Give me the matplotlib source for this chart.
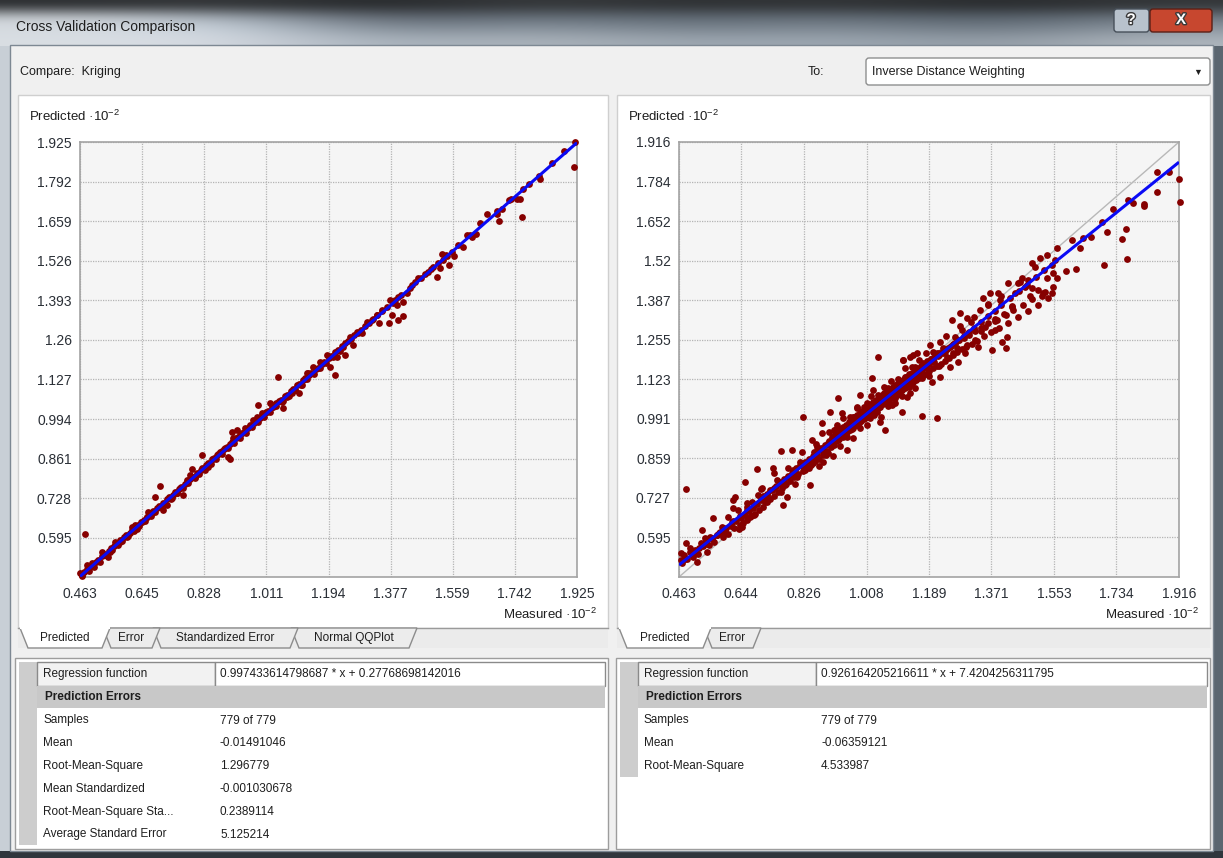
import numpy as np
import matplotlib.pyplot as plt
from matplotlib.patches import Rectangle, Polygon, FancyBboxPatch
import matplotlib.patheffects as pe

plt.rcParams['font.family'] = ['Liberation Sans', 'DejaVu Sans']
plt.rcParams['mathtext.fontset'] = 'custom'
plt.rcParams['mathtext.rm'] = 'Liberation Sans'
plt.rcParams['mathtext.it'] = 'Liberation Sans:italic'
plt.rcParams['mathtext.bf'] = 'Liberation Sans:bold'

W, H = 1223, 858

# ---- Kriging cross validation (measured, predicted), units of 10^-2 ----
kriging_pairs = [
    # low end and scattered points
    (0.478, 0.608), (0.463, 0.476), (0.468, 0.470), (0.483, 0.504), (0.492, 0.497), (0.497, 0.509),
    (0.527, 0.548), (0.537, 0.537), (0.546, 0.531), (0.551, 0.548), (0.566, 0.582), (0.571, 0.574),
    (0.581, 0.582), (0.600, 0.598), (0.615, 0.632), (0.625, 0.638), (0.630, 0.626), (0.644, 0.649),
    (0.659, 0.666), (0.664, 0.683), (0.674, 0.677), (0.684, 0.733), (0.698, 0.769), (0.708, 0.688),
    (0.718, 0.705), (0.733, 0.727), (0.747, 0.744), (0.757, 0.761), (0.767, 0.739), (0.777, 0.789),
    (0.787, 0.806), (0.791, 0.825), (0.801, 0.800), (0.821, 0.873), (0.831, 0.823), (0.840, 0.834),
    (0.850, 0.859), (0.865, 0.873), (0.880, 0.887), (0.889, 0.895), (0.899, 0.865), (0.904, 0.859),
    (0.909, 0.951), (0.924, 0.957), (0.914, 0.929), (0.934, 0.940), (0.948, 0.963), (0.963, 0.974),
    (0.973, 0.991), (0.985, 1.002), (0.986, 1.041), (0.997, 1.013), (1.012, 1.019), (1.022, 1.047),
    (1.032, 1.035), (1.041, 1.047), (1.056, 1.052), (1.061, 1.030), (1.071, 1.069), (1.086, 1.080),
    (1.095, 1.091), (1.108, 1.083), (1.115, 1.108), (1.125, 1.131), (1.135, 1.147), (1.046, 1.136),
    (1.130, 1.148), (1.149, 1.170), (1.169, 1.187), (1.189, 1.209), (1.198, 1.170), (1.213, 1.142),
    (1.218, 1.204), (1.243, 1.209), (1.238, 1.237), (1.257, 1.271), (1.267, 1.243), (1.277, 1.288),
    (1.292, 1.282), (1.306, 1.321), (1.321, 1.327), (1.336, 1.344), (1.350, 1.360), (1.343, 1.316),
    (1.373, 1.318), (1.375, 1.394), (1.385, 1.383), (1.395, 1.377), (1.399, 1.405), (1.414, 1.388),
    (1.399, 1.327), (1.412, 1.340), (1.380, 1.344), (1.424, 1.416), (1.434, 1.433), (1.448, 1.456),
    (1.458, 1.467), (1.478, 1.481), (1.488, 1.489), (1.502, 1.506), (1.512, 1.470), (1.522, 1.500),
    (1.527, 1.549), (1.532, 1.528), (1.542, 1.542), (1.547, 1.512), (1.556, 1.556), (1.563, 1.542),
    (1.591, 1.573), (1.600, 1.612), (1.615, 1.607), (1.628, 1.615), (1.641, 1.652), (1.661, 1.682),
    (1.689, 1.682), (1.696, 1.661), (1.705, 1.700), (1.725, 1.730), (1.748, 1.732), (1.757, 1.732),
    (1.762, 1.674), (1.767, 1.766), (1.785, 1.783), (1.813, 1.811), (1.816, 1.800), (1.852, 1.856),
    (1.888, 1.895), (1.917, 1.840), (1.919, 1.926),
    # dense band along the 1:1 line
    (0.470, 0.468), (0.476, 0.481), (0.485, 0.489), (0.490, 0.484), (0.498, 0.503), (0.503, 0.497),
    (0.510, 0.512), (0.516, 0.521), (0.521, 0.515), (0.529, 0.532), (0.534, 0.540), (0.540, 0.536),
    (0.547, 0.549), (0.553, 0.561), (0.558, 0.553), (0.563, 0.567), (0.570, 0.574), (0.575, 0.569),
    (0.582, 0.588), (0.588, 0.583), (0.593, 0.597), (0.598, 0.604), (0.604, 0.600), (0.610, 0.612),
    (0.616, 0.622), (0.621, 0.617), (0.627, 0.631), (0.633, 0.637), (0.638, 0.634), (0.643, 0.648),
    (0.650, 0.655), (0.655, 0.651), (0.661, 0.665), (0.667, 0.672), (0.672, 0.668), (0.678, 0.684),
    (0.684, 0.680), (0.690, 0.694), (0.695, 0.701), (0.701, 0.697), (0.707, 0.712), (0.713, 0.709),
    (0.719, 0.724), (0.724, 0.731), (0.730, 0.726), (0.736, 0.740), (0.742, 0.749), (0.748, 0.744),
    (0.753, 0.758), (0.759, 0.766), (0.765, 0.761), (0.771, 0.775), (0.777, 0.783), (0.782, 0.779),
    (0.788, 0.794), (0.794, 0.800), (0.800, 0.795), (0.806, 0.812), (0.812, 0.808), (0.818, 0.823),
    (0.823, 0.830), (0.829, 0.825), (0.835, 0.840), (0.841, 0.847), (0.847, 0.843), (0.853, 0.858),
    (0.858, 0.864), (0.864, 0.860), (0.870, 0.875), (0.876, 0.882), (0.882, 0.878), (0.888, 0.893),
    (0.894, 0.899), (0.899, 0.895), (0.905, 0.911), (0.911, 0.917), (0.917, 0.912), (0.923, 0.929),
    (0.929, 0.934), (0.934, 0.931), (0.940, 0.946), (0.946, 0.952), (0.952, 0.948), (0.958, 0.963),
    (0.964, 0.970), (0.970, 0.966), (0.976, 0.982), (0.982, 0.987), (0.987, 0.984), (0.993, 0.999),
    (0.999, 1.006), (1.005, 1.001), (1.011, 1.017), (1.017, 1.022), (1.023, 1.019), (1.029, 1.035),
    (1.035, 1.041), (1.041, 1.037), (1.047, 1.053), (1.053, 1.058), (1.059, 1.055), (1.065, 1.071),
    (1.071, 1.076), (1.077, 1.073), (1.083, 1.089), (1.089, 1.094), (1.095, 1.091), (1.101, 1.107),
    (1.107, 1.112), (1.113, 1.109), (1.119, 1.125), (1.125, 1.130), (1.131, 1.127), (1.137, 1.143),
    (1.143, 1.148), (1.150, 1.146), (1.156, 1.161), (1.162, 1.167), (1.168, 1.164), (1.175, 1.180),
    (1.181, 1.186), (1.187, 1.183), (1.194, 1.199), (1.200, 1.205), (1.207, 1.203), (1.214, 1.219),
    (1.221, 1.226), (1.228, 1.224), (1.235, 1.240), (1.243, 1.248), (1.252, 1.256), (1.260, 1.264),
    (1.270, 1.275), (1.280, 1.284), (1.290, 1.294), (1.300, 1.305), (1.312, 1.316), (1.325, 1.329),
    (1.338, 1.342), (1.352, 1.356), (1.365, 1.369), (1.390, 1.393), (1.408, 1.411), (1.440, 1.443),
    (1.465, 1.468), (1.495, 1.498), (1.515, 1.519), (1.540, 1.544), (1.575, 1.578), (1.610, 1.612),
    (1.690, 1.693), (1.730, 1.733),
]

# ---- Inverse Distance Weighting cross validation (measured, predicted) ----
idw_pairs = [
    # scattered points
    (0.483, 0.756), (0.468, 0.542), (0.471, 0.511), (0.483, 0.575), (0.495, 0.548), (0.505, 0.531),
    (0.514, 0.514), (0.529, 0.620), (0.539, 0.592), (0.543, 0.548), (0.553, 0.598), (0.563, 0.659),
    (0.572, 0.603), (0.587, 0.631), (0.597, 0.609), (0.606, 0.665), (0.616, 0.648), (0.621, 0.720),
    (0.626, 0.731), (0.635, 0.687), (0.645, 0.631), (0.655, 0.781), (0.660, 0.698), (0.669, 0.665),
    (0.674, 0.715), (0.689, 0.823), (0.694, 0.737), (0.703, 0.759), (0.708, 0.698), (0.718, 0.715),
    (0.727, 0.754), (0.737, 0.826), (0.747, 0.787), (0.758, 0.884), (0.766, 0.704), (0.771, 0.770),
    (0.776, 0.731), (0.790, 0.887), (0.795, 0.820), (0.805, 0.798), (0.815, 0.848), (0.824, 0.999),
    (0.829, 0.820), (0.844, 0.770), (0.849, 0.921), (0.853, 0.843), (0.863, 0.898), (0.878, 0.976),
    (0.882, 0.848), (0.897, 0.876), (0.902, 1.015), (0.912, 0.954), (0.921, 0.971), (0.926, 1.060),
    (0.936, 1.010), (0.941, 0.932), (0.950, 0.887), (0.960, 0.960), (0.970, 0.999), (0.979, 1.032),
    (0.984, 0.971), (0.989, 1.071), (0.999, 1.010), (1.008, 1.043), (1.018, 0.993), (1.028, 1.088),
    (1.037, 1.015), (1.047, 0.982), (1.057, 1.054), (1.062, 0.954), (1.071, 1.093), (1.081, 1.038),
    (1.091, 1.060), (1.105, 1.104), (1.110, 1.015), (1.120, 1.132), (1.125, 1.065), (1.139, 1.110),
    (1.149, 1.149), (1.134, 1.076), (1.168, 1.001), (1.214, 0.995), (1.221, 1.130), (1.197, 1.115),
    (1.173, 1.138), (1.042, 1.197), (1.113, 1.188), (1.144, 1.205), (1.023, 1.127),
    (1.115, 1.188), (1.134, 1.199), (1.154, 1.210), (1.149, 1.166), (1.173, 1.177), (1.192, 1.238),
    (1.202, 1.193), (1.212, 1.210), (1.221, 1.249), (1.231, 1.227), (1.241, 1.199), (1.251, 1.166),
    (1.255, 1.321), (1.265, 1.266), (1.270, 1.227), (1.275, 1.182), (1.280, 1.344), (1.284, 1.288),
    (1.294, 1.210), (1.299, 1.327), (1.304, 1.277), (1.313, 1.316), (1.323, 1.255), (1.333, 1.232),
    (1.338, 1.355), (1.347, 1.394), (1.352, 1.299), (1.362, 1.372), (1.367, 1.410), (1.372, 1.221),
    (1.381, 1.288), (1.386, 1.321), (1.391, 1.410), (1.396, 1.388), (1.401, 1.249), (1.413, 1.227),
    (1.415, 1.266), (1.413, 1.338), (1.420, 1.444), (1.430, 1.366), (1.439, 1.410), (1.449, 1.444),
    (1.454, 1.449), (1.469, 1.433), (1.478, 1.455), (1.483, 1.402), (1.488, 1.511), (1.498, 1.499),
    (1.507, 1.422), (1.512, 1.527), (1.517, 1.400), (1.527, 1.416), (1.531, 1.461), (1.531, 1.539),
    (1.546, 1.411), (1.546, 1.505), (1.551, 1.477), (1.556, 1.522), (1.561, 1.563), (1.561, 1.461),
    (1.588, 1.486), (1.604, 1.589), (1.617, 1.491), (1.628, 1.561), (1.638, 1.594), (1.659, 1.598),
    (1.691, 1.650), (1.698, 1.505), (1.706, 1.616), (1.725, 1.691), (1.749, 1.591), (1.761, 1.625),
    (1.764, 1.526), (1.769, 1.722), (1.783, 1.713), (1.815, 1.709), (1.815, 1.702), (1.853, 1.750),
    (1.853, 1.817), (1.888, 1.817), (1.917, 1.791), (1.919, 1.716),
    # dense cloud around the regression line
    (0.470, 0.520), (0.478, 0.538), (0.486, 0.522), (0.494, 0.560), (0.502, 0.541), (0.510, 0.552),
    (0.518, 0.540), (0.526, 0.575), (0.534, 0.566), (0.542, 0.580), (0.550, 0.571), (0.558, 0.590),
    (0.566, 0.580), (0.574, 0.602), (0.582, 0.612), (0.590, 0.596), (0.598, 0.621), (0.606, 0.608),
    (0.614, 0.634), (0.622, 0.628), (0.630, 0.650), (0.636, 0.622), (0.642, 0.660), (0.648, 0.645),
    (0.654, 0.671), (0.660, 0.652), (0.666, 0.684), (0.672, 0.666), (0.678, 0.692), (0.684, 0.675),
    (0.690, 0.706), (0.696, 0.688), (0.702, 0.720), (0.708, 0.734), (0.714, 0.712), (0.720, 0.741),
    (0.726, 0.725), (0.732, 0.752), (0.738, 0.735), (0.744, 0.768), (0.750, 0.748), (0.756, 0.779),
    (0.762, 0.760), (0.768, 0.792), (0.774, 0.772), (0.780, 0.802), (0.786, 0.785), (0.792, 0.812),
    (0.798, 0.796), (0.804, 0.826), (0.810, 0.806), (0.816, 0.838), (0.822, 0.816), (0.828, 0.846),
    (0.834, 0.830), (0.840, 0.858), (0.846, 0.838), (0.852, 0.868), (0.858, 0.850), (0.864, 0.880),
    (0.870, 0.856), (0.876, 0.890), (0.882, 0.870), (0.888, 0.904), (0.894, 0.884), (0.900, 0.918),
    (0.904, 0.896), (0.908, 0.930), (0.912, 0.905), (0.916, 0.940), (0.920, 0.918), (0.924, 0.948),
    (0.928, 0.925), (0.932, 0.956), (0.936, 0.934), (0.940, 0.964), (0.944, 0.940), (0.948, 0.972),
    (0.952, 0.948), (0.956, 0.980), (0.960, 0.955), (0.964, 0.988), (0.968, 0.962), (0.972, 0.996),
    (0.976, 0.970), (0.980, 1.004), (0.984, 0.976), (0.988, 1.012), (0.992, 0.985), (0.996, 1.018),
    (1.000, 0.990), (1.004, 1.026), (1.008, 0.998), (1.012, 1.034), (1.016, 1.005), (1.020, 1.040),
    (1.024, 1.012), (1.028, 1.048), (1.032, 1.020), (1.036, 1.055), (1.040, 1.026), (1.044, 1.062),
    (1.048, 1.032), (1.052, 1.070), (1.056, 1.040), (1.060, 1.078), (1.064, 1.046), (1.068, 1.084),
    (1.072, 1.052), (1.076, 1.090), (1.080, 1.060), (1.084, 1.098), (1.088, 1.066), (1.092, 1.104),
    (1.096, 1.072), (1.100, 1.112), (1.104, 1.080), (1.108, 1.118), (1.112, 1.086), (1.116, 1.126),
    (1.120, 1.094), (1.124, 1.132), (1.128, 1.100), (1.132, 1.140), (1.136, 1.108), (1.140, 1.146),
    (1.144, 1.114), (1.148, 1.154), (1.152, 1.120), (1.156, 1.160), (1.160, 1.128), (1.165, 1.168),
    (1.170, 1.134), (1.175, 1.176), (1.180, 1.142), (1.185, 1.184), (1.190, 1.150), (1.195, 1.192),
    (1.200, 1.160), (1.206, 1.200), (1.212, 1.168), (1.218, 1.210), (1.224, 1.176), (1.230, 1.218),
    (1.236, 1.186), (1.242, 1.226), (1.248, 1.196), (1.254, 1.236), (1.260, 1.205), (1.266, 1.244),
    (1.272, 1.214), (1.278, 1.254), (1.284, 1.224), (1.290, 1.262), (1.298, 1.232), (1.306, 1.272),
    (1.314, 1.242), (1.322, 1.284), (1.330, 1.252), (1.340, 1.296), (1.350, 1.268), (1.360, 1.310),
    (1.370, 1.280), (1.382, 1.326), (1.394, 1.296), (1.406, 1.340), (1.420, 1.312), (1.434, 1.356),
    (1.448, 1.330), (1.462, 1.372), (1.476, 1.350), (1.490, 1.392), (1.505, 1.370), (1.520, 1.410),
    (1.535, 1.395), (1.550, 1.430),
    (0.480, 0.522), (0.500, 0.536), (0.520, 0.560), (0.540, 0.572), (0.560, 0.594), (0.580, 0.610),
    (0.600, 0.628), (0.620, 0.650), (0.640, 0.666), (0.660, 0.686), (0.680, 0.702), (0.700, 0.724),
    (0.720, 0.738), (0.740, 0.760), (0.760, 0.774), (0.780, 0.796), (0.800, 0.812), (0.820, 0.834),
    (0.840, 0.850), (0.860, 0.872), (0.880, 0.888), (0.900, 0.908), (0.910, 0.916), (0.920, 0.928),
    (0.930, 0.936), (0.940, 0.946), (0.950, 0.956), (0.960, 0.964), (0.970, 0.974), (0.980, 0.982),
    (0.990, 0.992), (1.000, 1.002), (1.010, 1.010), (1.020, 1.020), (1.030, 1.028), (1.040, 1.038),
    (1.050, 1.046), (1.060, 1.056), (1.070, 1.064), (1.080, 1.074), (1.090, 1.082), (1.100, 1.094),
    (1.110, 1.100), (1.120, 1.112), (1.130, 1.118), (1.140, 1.130), (1.150, 1.138), (1.160, 1.148),
    (1.170, 1.156), (1.180, 1.166), (1.190, 1.176), (1.200, 1.184), (1.215, 1.200), (1.230, 1.212),
    (1.245, 1.228), (1.260, 1.240), (1.275, 1.254), (1.290, 1.268), (1.305, 1.282), (1.320, 1.296),
    (1.340, 1.316), (1.360, 1.334), (1.380, 1.352), (1.400, 1.372), (1.425, 1.394), (1.450, 1.418),
    (1.475, 1.440), (1.500, 1.466), (1.525, 1.488),
    # outer layer of the cloud
    (0.620, 0.693), (0.640, 0.637), (0.660, 0.710), (0.680, 0.669), (0.700, 0.757), (0.720, 0.721),
    (0.740, 0.809), (0.760, 0.748), (0.780, 0.827), (0.800, 0.775), (0.820, 0.879), (0.840, 0.827),
    (0.860, 0.906), (0.870, 0.835), (0.880, 0.944), (0.890, 0.869), (0.900, 0.948), (0.910, 0.867),
    (0.920, 0.956), (0.930, 0.901), (0.940, 0.995), (0.950, 0.929), (0.960, 0.998), (0.970, 0.928),
    (0.980, 1.027), (0.990, 0.961), (1.000, 1.030), (1.010, 0.970), (1.020, 1.069), (1.030, 1.003),
    (1.040, 1.072), (1.050, 0.997), (1.060, 1.096), (1.070, 1.035), (1.080, 1.119), (1.090, 1.044),
    (1.100, 1.123), (1.110, 1.067), (1.120, 1.161), (1.130, 1.096), (1.140, 1.165), (1.150, 1.094),
    (1.160, 1.189), (1.170, 1.128), (1.180, 1.212), (1.190, 1.136), (1.200, 1.216), (1.220, 1.169),
    (1.240, 1.268), (1.260, 1.211), (1.280, 1.300), (1.300, 1.238), (1.320, 1.332), (1.340, 1.285),
    (1.360, 1.374), (1.380, 1.317), (1.400, 1.401), (1.430, 1.369), (1.460, 1.461), (1.490, 1.429),
    # core of the cloud
    (0.855, 0.880), (0.865, 0.872), (0.875, 0.895), (0.885, 0.884), (0.895, 0.912), (0.905, 0.906),
    (0.915, 0.930), (0.925, 0.921), (0.935, 0.950), (0.945, 0.941), (0.955, 0.968), (0.965, 0.958),
    (0.975, 0.988), (0.985, 0.977), (0.995, 1.006), (1.005, 0.996), (1.015, 1.024), (1.025, 1.014),
    (1.035, 1.044), (1.045, 1.032), (1.055, 1.062), (1.065, 1.052), (1.075, 1.080), (1.085, 1.070),
    (1.095, 1.100), (1.105, 1.088), (1.115, 1.118), (1.125, 1.108), (1.135, 1.136), (1.145, 1.126),
    (1.155, 1.155), (1.165, 1.144), (1.175, 1.172), (1.185, 1.162), (1.195, 1.190), (1.205, 1.180),
    (1.220, 1.204), (1.235, 1.216), (1.250, 1.232), (1.265, 1.244),
]

kriging_xticks = ['0.463', '0.645', '0.828', '1.011', '1.194', '1.377', '1.559', '1.742', '1.925']
kriging_yticks = ['0.595', '0.728', '0.861', '0.994', '1.127', '1.26', '1.393', '1.526', '1.659', '1.792', '1.925']
idw_xticks = ['0.463', '0.644', '0.826', '1.008', '1.189', '1.371', '1.553', '1.734', '1.916']
idw_yticks = ['0.595', '0.727', '0.859', '0.991', '1.123', '1.255', '1.387', '1.52', '1.652', '1.784', '1.916']

# regression functions (raw units, intercept scaled by 10^-2 on the axes)
kriging_regression = (0.997433614798687, 0.27768698142016)
idw_regression = (0.926164205216611, 7.4204256311795)

kriging_stats = [('Samples', '779 of 779'), ('Mean', '-0.01491046'), ('Root-Mean-Square', '1.296779'),
                 ('Mean Standardized', '-0.001030678'), ('Root-Mean-Square Sta...', '0.2389114'),
                 ('Average Standard Error', '5.125214')]
idw_stats = [('Samples', '779 of 779'), ('Mean', '-0.06359121'), ('Root-Mean-Square', '4.533987')]

TEXT = '#1e1e1e'

fig = plt.figure(figsize=(W / 100, H / 100), dpi=100)
fig.patch.set_facecolor('#f0f0f0')
ui = fig.add_axes([0, 0, 1, 1])
ui.set_xlim(0, W)
ui.set_ylim(H, 0)
ui.axis('off')


def box(x0, y0, x1, y1, fc, ec='none', lw=1.0, z=1):
    ui.add_patch(Rectangle((x0, y0), x1 - x0, y1 - y0, facecolor=fc, edgecolor=ec, linewidth=lw, zorder=z))


def label(x, y, s, size=8.5, **kw):
    kw.setdefault('color', TEXT)
    ui.text(x, y, s, fontsize=size, va='center', zorder=6, **kw)


# window frame and blurred glass title bar
box(0, 0, W, H, '#c8cfd6', z=0.1)
title_rgb = np.array([
    [[0.16, 0.17, 0.18], [0.20, 0.21, 0.22], [0.14, 0.15, 0.16], [0.22, 0.23, 0.24], [0.17, 0.18, 0.19],
     [0.20, 0.21, 0.22], [0.15, 0.16, 0.17], [0.20, 0.21, 0.22]],
    [[0.80, 0.82, 0.84], [0.66, 0.70, 0.74], [0.34, 0.37, 0.41], [0.42, 0.46, 0.50], [0.36, 0.40, 0.44],
     [0.40, 0.44, 0.48], [0.32, 0.36, 0.40], [0.44, 0.48, 0.52]],
    [[0.84, 0.86, 0.88], [0.80, 0.84, 0.88], [0.48, 0.52, 0.56], [0.56, 0.60, 0.64], [0.46, 0.50, 0.54],
     [0.52, 0.56, 0.60], [0.42, 0.46, 0.50], [0.56, 0.60, 0.64]],
    [[0.85, 0.87, 0.89], [0.84, 0.86, 0.89], [0.64, 0.68, 0.72], [0.68, 0.71, 0.74], [0.60, 0.64, 0.68],
     [0.62, 0.66, 0.70], [0.56, 0.60, 0.64], [0.68, 0.71, 0.74]],
])
ui.imshow(title_rgb, extent=(0, W, 46, 0), interpolation='bicubic', aspect='auto', zorder=0.3)
ui.set_xlim(0, W)
ui.set_ylim(H, 0)
box(1213, 46, W, H, '#5b6670', z=0.4)
box(0, 851, W, H, '#30363d', z=0.4)
box(10, 45, 1213, 851, '#f0f0f0', ec='#7d8893', z=0.5)
label(16, 27, 'Cross Validation Comparison', size=10)

# caption buttons
ui.add_patch(FancyBboxPatch((1114, 9), 35, 23, boxstyle='round,pad=0,rounding_size=3',
                            fc='#b8c2cc', ec='#47505a', lw=1, zorder=2))
ui.add_patch(FancyBboxPatch((1150, 9), 62, 23, boxstyle='round,pad=0,rounding_size=3',
                            fc='#c7472f', ec='#5a1f16', lw=1, zorder=2))
outline = [pe.withStroke(linewidth=2, foreground='#3a3a3a')]
ui.text(1131, 20, '?', fontsize=11, ha='center', va='center', color='white', weight='bold',
        path_effects=outline, zorder=6)
ui.text(1181, 20, 'X', fontsize=11, ha='center', va='center', color='white', weight='bold',
        path_effects=outline, zorder=6)

# compare / to header
label(20, 72, 'Compare:  Kriging', size=9)
label(808, 72, 'To:', size=9)
ui.add_patch(FancyBboxPatch((866, 58), 344, 27, boxstyle='round,pad=0,rounding_size=3',
                            fc='white', ec='#8e8f8f', lw=1, zorder=2))
label(872, 72, 'Inverse Distance Weighting', size=9)
ui.text(1198, 72, '▼', fontsize=6.5, ha='center', va='center', color='#202020', zorder=6)


def tab_strip(x0, x1, tabs):
    box(x0, 628, x1, 648, '#ebebeb', z=1)
    ui.plot([x0, x1], [628, 628], color='#9a9a9a', lw=1, zorder=2)
    for i, (name, left, right) in reversed(list(enumerate(tabs))):
        fc = 'white' if i == 0 else '#ececec'
        ui.add_patch(Polygon([(left, 628), (left + 8, 648), (right - 8, 648), (right, 628)],
                             closed=True, fc=fc, ec='#8c8c8c', lw=1, zorder=3 + (i == 0)))
        label((left + right) / 2, 638, name, size=8.5, ha='center')
    ui.plot([tabs[0][1] + 1, tabs[0][2] - 1], [628, 628], color='white', lw=1.5, zorder=5)


def stats_table(x0, x1, bar_bottom, reg, rows):
    box(x0, 658, x1, 849, 'white', ec='#9d9d9d', z=1)
    box(x0 + 4, 662, x0 + 22, bar_bottom, '#cdcdcd', z=2)
    split = x0 + 200
    box(x0 + 22, 662, split, 686, '#f2f2f2', ec='#8a8a8a', z=2)
    box(split, 662, x1 - 3, 686, 'white', ec='#8a8a8a', z=2)
    box(x0 + 22, 686, x1 - 3, 708, '#c8c8c8', z=2)
    label(x0 + 28, 674, 'Regression function', size=8.5)
    label(split + 5, 674, f'{reg[0]} * x + {reg[1]}', size=8.5)
    label(x0 + 30, 697, 'Prediction Errors', size=8.5, weight='bold')
    for k, (name, value) in enumerate(rows):
        y = 720.5 + k * 22.8
        label(x0 + 28, y, name, size=8.5)
        label(split + 5, y, value, size=8.5)


def scatter_panel(px, pairs, reg, xticks, yticks, tabs):
    l, t, r, b = px
    ax = fig.add_axes([l / W, 1 - b / H, (r - l) / W, (b - t) / H], zorder=3)
    ax.set_facecolor('#f5f5f5')
    xt = [float(s) for s in xticks]
    yt = [float(s) for s in yticks]
    lo, hi = xt[0], xt[-1]
    ax.set_xlim(lo, hi)
    ax.set_ylim(lo, hi)
    ax.set_xticks(xt)
    ax.set_xticklabels(xticks)
    ax.set_yticks(yt)
    ax.set_yticklabels(yticks)
    ax.tick_params(length=0, labelsize=10, labelcolor='#2a2f36', pad=6)
    ax.tick_params(axis='x', pad=7)
    ax.grid(True, color='#b4b4b4', linestyle=(0, (1, 1)), linewidth=0.9)
    ax.set_axisbelow(True)
    for s in ax.spines.values():
        s.set_color('#a3a3a3')
        s.set_linewidth(1.2)

    ends = np.array([lo, hi])
    ax.plot(ends, ends, color='#b8b8b8', lw=1.0, zorder=2)
    measured = np.array([p[0] for p in pairs])
    predicted = np.array([p[1] for p in pairs])
    ax.scatter(measured, predicted, s=24, color='#860000', linewidths=0, zorder=3, clip_on=False)
    slope, intercept = reg
    ax.plot(ends, slope * ends + intercept * 1e-2, color='#0a0af5', lw=2.2, zorder=4,
            solid_capstyle='butt')

    # surrounding white panel, axis captions and tabs
    box(l - 62, 95, r + 31, 628, 'white', ec='#cfcfcf', z=0.9)
    label(l - 51, 116, 'Predicted ·10$^{-2}$', size=9.5)
    label(r + 20, 614, 'Measured ·10$^{-2}$', size=9.5, ha='right')
    tab_strip(l - 62, r + 31, [(n, l - 60 + a, l - 60 + c) for n, a, c in tabs])
    return ax


scatter_panel((80, 142, 577, 577), kriging_pairs, kriging_regression, kriging_xticks, kriging_yticks,
              [('Predicted', 0, 90), ('Error', 83, 140), ('Standardized Error', 133, 278),
               ('Normal QQPlot', 271, 397)])
scatter_panel((679, 142, 1179, 577), idw_pairs, idw_regression, idw_xticks, idw_yticks,
              [('Predicted', 0, 92), ('Error', 85, 142)])

stats_table(15, 608, 845, kriging_regression, kriging_stats)
stats_table(616, 1210, 777, idw_regression, idw_stats)

fig.savefig('out.png', dpi=100, facecolor=fig.get_facecolor())
